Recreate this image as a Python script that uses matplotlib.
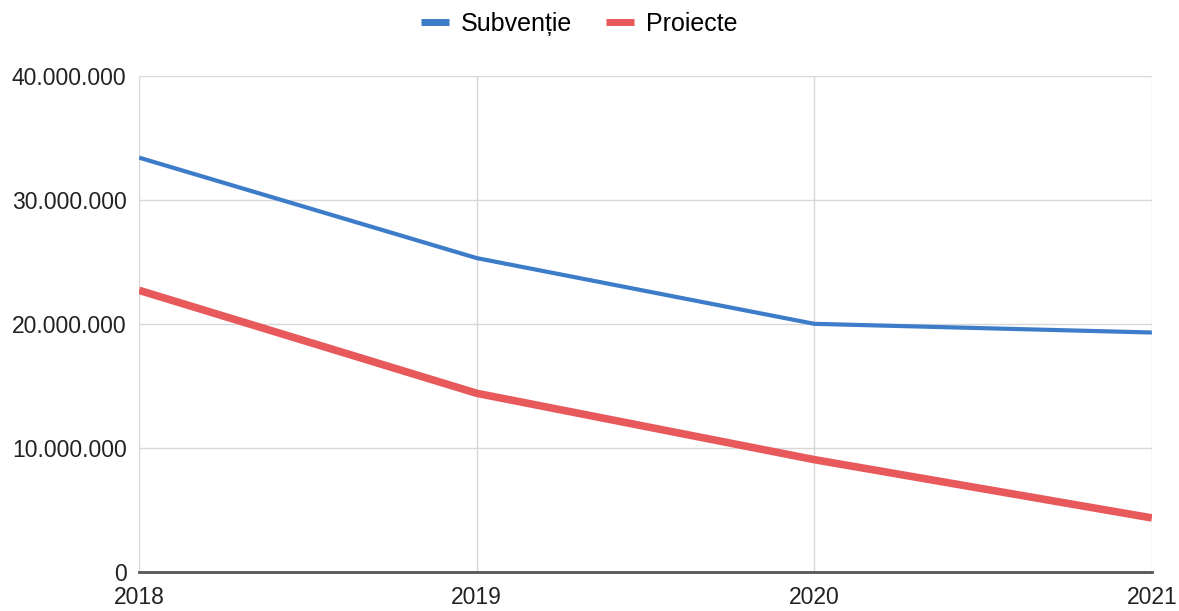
import matplotlib.pyplot as plt
from matplotlib.ticker import FuncFormatter

years = [2018, 2019, 2020, 2021]
subventie = [33400000, 25300000, 20000000, 19300000]
proiecte = [22700000, 14400000, 9050000, 4350000]
y_ticks = [0, 10000000, 20000000, 30000000, 40000000]

plt.rcParams['font.family'] = ['Liberation Sans', 'DejaVu Sans']

fig = plt.figure(figsize=(11.79, 6.11), dpi=100)
ax = fig.add_axes([0.118, 0.064, 0.859, 0.812])

ax.plot(years, subventie, color='#3d7cc9', linewidth=3.0, label='Subvenție', solid_capstyle='butt')
ax.plot(years, proiecte, color='#e8595c', linewidth=5.5, label='Proiecte', solid_capstyle='butt')

ax.set_xlim(2018, 2021)
ax.set_ylim(0, 40000000)
ax.set_xticks(years)
ax.set_yticks(y_ticks)
ax.yaxis.set_major_formatter(FuncFormatter(lambda v, p: f'{int(v):,}'.replace(',', '.')))

ax.grid(True, color='#d8d8d8', linewidth=1)
ax.set_axisbelow(True)
for side in ['top', 'right', 'left']:
    ax.spines[side].set_visible(False)
ax.spines['bottom'].set_color('#555555')
ax.spines['bottom'].set_linewidth(2)
ax.tick_params(axis='both', length=0, labelsize=16.5, colors='#222222')
ax.tick_params(axis='x', pad=10)
ax.tick_params(axis='y', pad=9)

fig.legend(loc='upper center', bbox_to_anchor=(0.491, 1.018), ncol=2, frameon=False,
           fontsize=18, handlelength=1.15, handletextpad=0.45, columnspacing=1.35)
for line in fig.legends[0].get_lines():
    line.set_linewidth(5)

fig.savefig('out.png', dpi=100)
